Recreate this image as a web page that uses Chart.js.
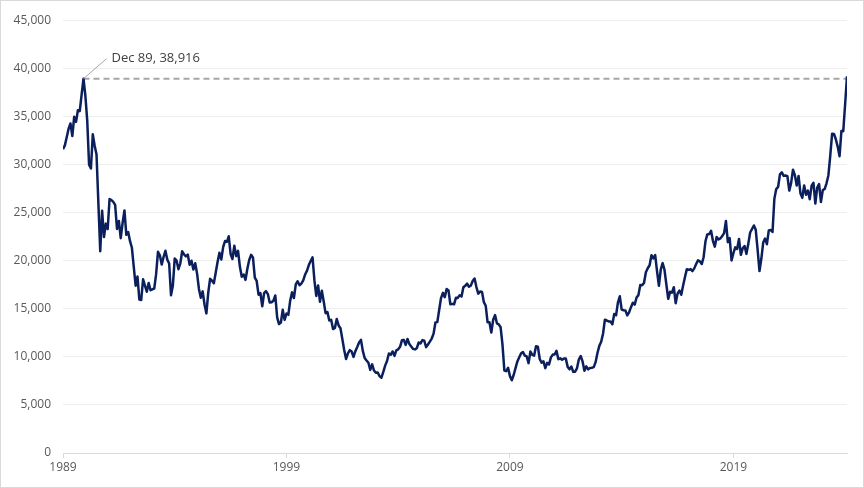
<!DOCTYPE html>
<html>
<head>
<meta charset="utf-8">
<script src="https://cdn.jsdelivr.net/npm/chart.js@4"></script>
<style>
  html, body { margin: 0; padding: 0; background: #fff; }
  #wrap { width: 864px; height: 488px; box-sizing: border-box; border: 1px solid #d9d9d9; }
  canvas { display: block; }
</style>
</head>
<body>
<div id="wrap"><canvas id="chart" width="862" height="486"></canvas></div>
<script>
// monthly closes, first value = Jan 1989
const close1989_1993 = [
  31581, 31986, 32839, 33714, 34267, 32949, 34954, 34431, 35637, 35549, 37269, 38916,
  37189, 34592, 29980, 29585, 33131, 31940, 31036, 25978, 20984, 25194, 22455, 23849,
  23293, 26409, 26292, 26111, 25790, 23291, 24121, 22336, 23916, 25222, 22687, 22984,
  22023, 21339, 19346, 17391, 18348, 15952, 15910, 18061, 17399, 16767, 17683, 16925,
  17024, 17098, 18591, 20919, 20552, 19590, 20380, 21027, 20106, 19703, 16408, 17417
];
const close1994_1998 = [
  20229, 19998, 19112, 19725, 20974, 20643, 20449, 20629, 19564, 19990, 19076, 19723,
  18650, 17053, 16140, 16807, 15437, 14517, 16678, 18117, 17913, 17655, 18744, 19868,
  20813, 20125, 21407, 22041, 21956, 22531, 20692, 20167, 21556, 20467, 21020, 19361,
  18330, 18557, 18003, 19151, 20069, 20605, 20331, 18229, 17888, 16459, 16631, 15259,
  16628, 16831, 16527, 15641, 15671, 15830, 16379, 14108, 13406, 13564, 14883, 13842
];
const close1999_2003 = [
  14499, 14368, 15837, 16702, 16112, 17530, 17862, 17437, 17605, 17943, 18558, 18934,
  19540, 19960, 20337, 17974, 16332, 17411, 15727, 16861, 15747, 14540, 14649, 13786,
  13844, 12884, 12999, 13934, 13262, 12969, 11861, 10714, 9775, 10366, 10697, 10543,
  9998, 10588, 11025, 11493, 11764, 10622, 9878, 9620, 9383, 8640, 9216, 8579,
  8340, 8363, 7973, 7831, 8425, 9083, 9563, 10344, 10219, 10560, 10101, 10677
];
const close2004_2008 = [
  10784, 11042, 11715, 11762, 11236, 11859, 11326, 11082, 10824, 10771, 10899, 11489,
  11388, 11741, 11669, 11009, 11277, 11584, 11900, 12414, 13574, 13607, 14872, 16111,
  16650, 16205, 17060, 16906, 15468, 15505, 15457, 16141, 16128, 16399, 16274, 17226,
  17383, 17604, 17288, 17400, 17876, 18138, 17249, 16569, 16786, 16737, 15681, 15308,
  13592, 13603, 12526, 13850, 14339, 13481, 13377, 13073, 11260, 8577, 8512, 8860
];
const close2009_2013 = [
  7994, 7568, 8110, 8828, 9523, 9958, 10357, 10493, 10133, 10035, 9345, 10546,
  10198, 10126, 11090, 11057, 9769, 9383, 9537, 8824, 9369, 9202, 9937, 10229,
  10238, 10624, 9755, 9850, 9694, 9816, 9833, 8955, 8700, 8988, 8435, 8455,
  8803, 9723, 10084, 9521, 8543, 9007, 8695, 8840, 8870, 8928, 9446, 10395,
  11139, 11559, 12398, 13861, 13775, 13677, 13668, 13389, 14456, 14328, 15662, 16291
];
const close2014_2018 = [
  14915, 14841, 14828, 14304, 14632, 15162, 15621, 15425, 16174, 16414, 17460, 17451,
  17674, 18798, 19207, 19520, 20563, 20236, 20585, 18890, 17388, 19083, 19747, 19034,
  17518, 16027, 16759, 16666, 17235, 15576, 16569, 16887, 16450, 17425, 18308, 19114,
  19041, 19119, 18909, 19197, 19651, 20033, 19925, 19646, 20356, 22012, 22725, 22765,
  23098, 22068, 21454, 22468, 22202, 22305, 22554, 22865, 24120, 21920, 22351, 20015
];
const close2019_2024 = [
  20773, 21385, 21206, 22259, 20601, 21276, 21522, 20704, 21756, 22927, 23294, 23657,
  23205, 21143, 18917, 20194, 21878, 22288, 21710, 23140, 23185, 22977, 26434, 27444,
  27663, 28966, 29179, 28813, 28860, 28792, 27284, 28090, 29453, 28893, 27822, 28792,
  27002, 26527, 27821, 26848, 27280, 26393, 27802, 28092, 25937, 27587, 27969, 26095,
  27327, 27446, 28041, 28856, 30888, 33189, 33172, 32619, 31858, 30859, 33487, 33464,
  36287, 39166
];

const startYear = 1989;
const xTicks = [1989, 1999, 2009, 2019];
const yTicks = [0, 5000, 10000, 15000, 20000, 25000, 30000, 35000, 40000, 45000];
const peakLabel = 'Dec 89, 38,916';
const peakValue = 38916;
const peakIndex = 11;

const closes = [].concat(close1989_1993, close1994_1998, close1999_2003,
  close2004_2008, close2009_2013, close2014_2018, close2019_2024);
const points = closes.map((v, i) => ({ x: startYear + i / 12, y: v }));
const lastX = points[points.length - 1].x;
const peakX = startYear + peakIndex / 12;

const fmt = n => n.toLocaleString('en-US');

const peakNote = {
  id: 'peakNote',
  afterDatasetsDraw(chart) {
    const { ctx, scales } = chart;
    const px = scales.x.getPixelForValue(peakX);
    const py = scales.y.getPixelForValue(peakValue);
    ctx.save();
    ctx.strokeStyle = '#a6a6a6';
    ctx.lineWidth = 1;
    ctx.beginPath();
    ctx.moveTo(px, py);
    ctx.lineTo(px + 23, py - 20);
    ctx.stroke();
    ctx.fillStyle = '#404040';
    ctx.font = '13px "Open Sans", sans-serif';
    ctx.textBaseline = 'middle';
    ctx.fillText(peakLabel, px + 28, py - 20);
    ctx.restore();
  }
};

new Chart(document.getElementById('chart'), {
  type: 'line',
  data: {
    datasets: [
      {
        data: points,
        borderColor: '#0a1f5c',
        borderWidth: 2.5,
        borderJoinStyle: 'round',
        pointRadius: 0,
        tension: 0,
        order: 1
      },
      {
        data: [{ x: peakX, y: peakValue }, { x: lastX, y: peakValue }],
        borderColor: '#a6a6a6',
        borderWidth: 2,
        borderDash: [6, 4],
        pointRadius: 0,
        order: 2
      }
    ]
  },
  options: {
    responsive: false,
    animation: false,
    layout: { padding: { left: 0, right: 16, top: 6, bottom: 0 } },
    plugins: { legend: { display: false }, tooltip: { enabled: false } },
    scales: {
      x: {
        type: 'linear',
        min: startYear,
        max: lastX,
        afterBuildTicks: axis => { axis.ticks = xTicks.map(v => ({ value: v })); },
        afterFit: axis => { axis.height = 34; },
        ticks: {
          color: '#595959',
          font: { family: '"Open Sans", sans-serif', size: 12 },
          callback: v => String(v),
          maxRotation: 0,
          padding: 2
        },
        grid: { drawOnChartArea: false, color: '#d9d9d9', tickLength: 5 },
        border: { color: '#d9d9d9' }
      },
      y: {
        min: 0,
        max: 45000,
        afterBuildTicks: axis => { axis.ticks = yTicks.map(v => ({ value: v })); },
        afterFit: axis => { axis.width = 62; },
        ticks: {
          color: '#595959',
          font: { family: '"Open Sans", sans-serif', size: 12 },
          callback: v => fmt(v),
          padding: 12
        },
        grid: {
          color: ctx => ctx.tick && ctx.tick.value === 0 ? '#d9d9d9' : '#eeeeee',
          drawTicks: false
        },
        border: { display: false }
      }
    }
  },
  plugins: [peakNote]
});
</script>
</body>
</html>
